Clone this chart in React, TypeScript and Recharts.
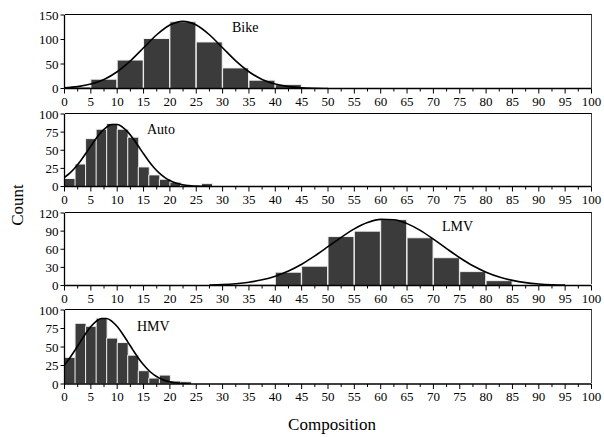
import { ComposedChart, Bar, Line, XAxis, YAxis } from "recharts";

// x axis ticks shared by all four panels
const X_TICKS = [0, 5, 10, 15, 20, 25, 30, 35, 40, 45, 50, 55, 60, 65, 70, 75, 80, 85, 90, 95, 100];
const X_MINOR_TICKS = [2.5, 7.5, 12.5, 17.5, 22.5, 27.5, 32.5, 37.5, 42.5, 47.5, 52.5, 57.5, 62.5, 67.5, 72.5, 77.5, 82.5, 87.5, 92.5, 97.5];

// Bike: histogram (bin centres, counts) and fitted curve
const BIKE_BINS = [2.5, 7.5, 12.5, 17.5, 22.5, 27.5, 32.5, 37.5, 42.5];
const BIKE_COUNTS = [3, 19, 58, 102, 136, 95, 42, 17, 8];
const BIKE_FIT_X = [0, 2.5, 5, 7.5, 10, 12.5, 15, 17.5, 20, 22.5, 25, 27.5, 30, 32.5, 35, 37.5, 40, 42.5, 45, 47.5, 50];
const BIKE_FIT_Y = [1.5, 3.9, 9, 18.5, 34.2, 56.3, 83.1, 109.7, 129.6, 137, 129.6, 109.7, 83.1, 56.3, 34.2, 18.5, 9, 3.9, 1.5, 0.5, 0.1];
const BIKE_Y_TICKS = [0, 50, 100, 150];

// Auto
const AUTO_BINS = [1, 3, 5, 7, 9, 11, 13, 15, 17, 19, 21, 23, 25, 27];
const AUTO_COUNTS = [11, 31, 66, 79, 87, 79, 68, 27, 16, 10, 6, 2, 0, 4];
const AUTO_FIT_X = [0, 1, 2, 3, 4, 5, 6, 7, 8, 9, 10, 11, 12, 13, 14, 15, 16, 17, 18, 19, 20, 21, 22, 23, 24, 25, 26, 27, 28];
const AUTO_FIT_Y = [12.6, 18.4, 25.9, 34.9, 45.1, 55.8, 66.2, 75.3, 82, 85.6, 85.6, 82, 75.3, 66.2, 55.8, 45.1, 34.9, 25.9, 18.4, 12.6, 8.2, 5.1, 3.1, 1.8, 1, 0.5, 0.25, 0.1, 0];
const AUTO_Y_TICKS = [0, 25, 50, 75, 100];

// LMV
const LMV_BINS = [37.5, 42.5, 47.5, 52.5, 57.5, 62.5, 67.5, 72.5, 77.5, 82.5];
const LMV_COUNTS = [2, 22, 32, 81, 90, 109, 79, 46, 23, 8];
const LMV_FIT_X = [27.5, 30, 32.5, 35, 37.5, 40, 42.5, 45, 47.5, 50, 52.5, 55, 57.5, 60, 62.5, 65, 67.5, 70, 72.5, 75, 77.5, 80, 82.5, 85, 87.5, 90, 92.5, 95];
const LMV_FIT_Y = [0.7, 1.5, 3, 5.4, 9.4, 15.5, 24, 35.2, 48.9, 64.2, 79.7, 93.7, 104.2, 109.5, 108.9, 102.4, 91.2, 76.7, 61.1, 46, 32.7, 22.1, 14.1, 8.5, 4.8, 2.6, 1.3, 0.6];
const LMV_Y_TICKS = [0, 30, 60, 90, 120];

// HMV
const HMV_BINS = [1, 3, 5, 7, 9, 11, 13, 15, 17, 19, 21, 23];
const HMV_COUNTS = [36, 82, 78, 89, 62, 56, 39, 18, 8, 12, 4, 3];
const HMV_FIT_X = [0, 1, 2, 3, 4, 5, 6, 7, 8, 9, 10, 11, 12, 13, 14, 15, 16, 17, 18, 19, 20, 21, 22, 23, 24];
const HMV_FIT_Y = [25.9, 35.2, 45.8, 57, 68, 77.6, 84.7, 88.5, 88.5, 84.7, 77.6, 68, 57, 45.8, 35.2, 25.9, 18.2, 12.2, 7.9, 4.9, 2.9, 1.6, 0.9, 0.5, 0.2];
const HMV_Y_TICKS = [0, 25, 50, 75, 100];

const FONT = "'Liberation Serif', 'Times New Roman', serif";
const PLOT_LEFT = 64.5;
const PLOT_RIGHT = 591.5;
const WIDTH = 604;
const Y_AXIS_W = 60;
const X_AXIS_H = 30;
const PAD_TOP = 10;
const ALL_X_TICKS = [...X_TICKS, ...X_MINOR_TICKS].sort((a, b) => a - b);

type PanelProps = {
  bins: number[];
  counts: number[];
  fitX: number[];
  fitY: number[];
  yTicks: number[];
  label: string;
  labelX: number;
  labelY: number;
  plotTop: number;
  plotBottom: number;
};

function Panel({ bins, counts, fitX, fitY, yTicks, label, labelX, labelY, plotTop, plotBottom }: PanelProps) {
  const data = bins.map((x, i) => ({ x, count: counts[i] }));
  const fit = fitX.map((x, i) => ({ x, fit: fitY[i] }));
  const height = plotBottom - plotTop + PAD_TOP + X_AXIS_H;
  const axisY = PAD_TOP + plotBottom - plotTop;
  const margin = { top: PAD_TOP, right: WIDTH - PLOT_RIGHT, bottom: 0, left: PLOT_LEFT - Y_AXIS_W };
  const yMax = yTicks[yTicks.length - 1];
  const boxStyle = { position: "absolute" as const, left: 0, top: plotTop - PAD_TOP };

  // major ticks get a label and a longer mark, minor ticks only a short mark
  const renderXTick = (props: any) => {
    const { x, payload } = props;
    const major = X_TICKS.includes(payload.value);
    return (
      <g>
        <line x1={x} x2={x} y1={axisY} y2={axisY + (major ? 5 : 3)} stroke="#000" strokeWidth={1} />
        {major && (
          <text x={x} y={axisY + 17} textAnchor="middle" fontSize={13} fontFamily={FONT} fill="#000">
            {payload.value}
          </text>
        )}
      </g>
    );
  };

  return (
    <>
      {/* histogram with its axes */}
      <div style={boxStyle}>
        <ComposedChart width={WIDTH} height={height} data={data} margin={margin} barCategoryGap={0}>
          <XAxis
            dataKey="x"
            type="number"
            domain={[0, 100]}
            ticks={ALL_X_TICKS}
            interval={0}
            height={X_AXIS_H}
            tickLine={false}
            tick={renderXTick}
            axisLine={{ stroke: "#000", strokeWidth: 1.3 }}
            allowDataOverflow
          />
          <YAxis
            type="number"
            domain={[0, yMax]}
            ticks={yTicks}
            interval={0}
            width={Y_AXIS_W}
            tickSize={4}
            tickMargin={2}
            tick={{ fill: "#000", fontSize: 13, fontFamily: FONT }}
            stroke="#000"
            axisLine={{ stroke: "#000", strokeWidth: 1.3 }}
            allowDataOverflow
          />
          <Bar dataKey="count" fill="#3b3b3b" stroke="#f0f0f0" strokeWidth={1} isAnimationActive={false} />
        </ComposedChart>
      </div>
      {/* fitted curve, same plot area */}
      <div style={boxStyle}>
        <ComposedChart width={WIDTH} height={height} data={fit} margin={margin}>
          <XAxis dataKey="x" type="number" domain={[0, 100]} height={X_AXIS_H} tick={false} tickLine={false} axisLine={false} allowDataOverflow />
          <YAxis type="number" domain={[0, yMax]} width={Y_AXIS_W} tick={false} tickLine={false} axisLine={false} allowDataOverflow />
          <Line dataKey="fit" type="monotone" dot={false} stroke="#000" strokeWidth={1.6} isAnimationActive={false} />
        </ComposedChart>
      </div>
      {/* top and right frame */}
      <div
        style={{
          position: "absolute",
          left: PLOT_LEFT,
          top: plotTop - 1,
          width: PLOT_RIGHT - PLOT_LEFT,
          height: plotBottom - plotTop,
          borderTop: "1.5px solid #000",
          borderRight: "1.2px solid #444",
          boxSizing: "border-box",
        }}
      />
      <div style={{ position: "absolute", left: labelX, top: labelY, fontFamily: FONT, fontSize: 14, color: "#000", lineHeight: 1 }}>
        {label}
      </div>
    </>
  );
}

export default function App() {
  return (
    <div style={{ position: "absolute", left: 0, top: 0, width: WIDTH, height: 437, background: "#fff", fontFamily: FONT }}>
      <Panel bins={BIKE_BINS} counts={BIKE_COUNTS} fitX={BIKE_FIT_X} fitY={BIKE_FIT_Y} yTicks={BIKE_Y_TICKS}
        label="Bike" labelX={232} labelY={21} plotTop={15} plotBottom={88.5} />
      <Panel bins={AUTO_BINS} counts={AUTO_COUNTS} fitX={AUTO_FIT_X} fitY={AUTO_FIT_Y} yTicks={AUTO_Y_TICKS}
        label="Auto" labelX={147} labelY={123} plotTop={114} plotBottom={186.5} />
      <Panel bins={LMV_BINS} counts={LMV_COUNTS} fitX={LMV_FIT_X} fitY={LMV_FIT_Y} yTicks={LMV_Y_TICKS}
        label="LMV" labelX={442} labelY={220} plotTop={212.5} plotBottom={285} />
      <Panel bins={HMV_BINS} counts={HMV_COUNTS} fitX={HMV_FIT_X} fitY={HMV_FIT_Y} yTicks={HMV_Y_TICKS}
        label="HMV" labelX={137} labelY={320} plotTop={309.5} plotBottom={383.5} />
      <div style={{ position: "absolute", left: 18, top: 205, transform: "translate(-50%, -50%) rotate(-90deg)", fontSize: 17, color: "#000", whiteSpace: "nowrap" }}>
        Count
      </div>
      <div style={{ position: "absolute", left: 332, top: 425, transform: "translate(-50%, -50%)", fontSize: 17, color: "#000", whiteSpace: "nowrap" }}>
        Composition
      </div>
    </div>
  );
}
